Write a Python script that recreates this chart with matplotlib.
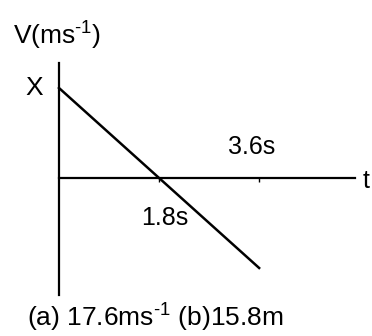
import matplotlib
matplotlib.use("Agg")
import matplotlib.pyplot as plt

plt.rcParams['font.family'] = ['Liberation Sans', 'DejaVu Sans']
plt.rcParams['mathtext.fontset'] = 'custom'
plt.rcParams['mathtext.rm'] = 'Liberation Sans'

# datos
t = [0, 3.6]
v = [17.6, -17.6]
ticks_t = [1.8, 3.6]
tick_labels = ['1.8s', '3.6s']

fig = plt.figure(figsize=(3.72, 3.36), dpi=100)
ax = fig.add_axes([0, 0, 1, 1])
ax.set_xlim(-1.061, 5.63)
ax.set_ylim(-30.9, 34.8)

ax.plot(t, v, color='black', lw=1.8)

for s in ['top', 'right']:
    ax.spines[s].set_visible(False)
ax.spines['left'].set_position(('data', 0))
ax.spines['bottom'].set_position(('data', 0))
ax.spines['left'].set_bounds(-22.9, 22.5)
ax.spines['bottom'].set_bounds(0, 5.32)
ax.spines['left'].set_linewidth(1.6)
ax.spines['bottom'].set_linewidth(1.6)
ax.set_xticks(ticks_t)
ax.set_xticklabels([])
ax.set_yticks([])
ax.tick_params(axis='x', direction='out', length=3, width=1)

fs = 18
ax.text(ticks_t[1] - 0.14, 6.0, tick_labels[1], fontsize=fs, ha='center', va='center')
ax.text(ticks_t[0] + 0.11, -7.8, tick_labels[0], fontsize=fs, ha='center', va='center')
ax.text(5.52, -0.5, 't', fontsize=fs, ha='center', va='center')
ax.text(-0.45, v[0], 'X', fontsize=19, ha='center', va='center')
fig.text(0.035, 0.896, r'V(ms$^{\mathregular{‐1}}$)', fontsize=19, ha='left', va='center')
fig.text(0.073, 0.058, r'(a) 17.6ms$^{\mathregular{‐1}}$ (b)15.8m', fontsize=19,
         ha='left', va='center')

fig.savefig('out.png', dpi=100)
